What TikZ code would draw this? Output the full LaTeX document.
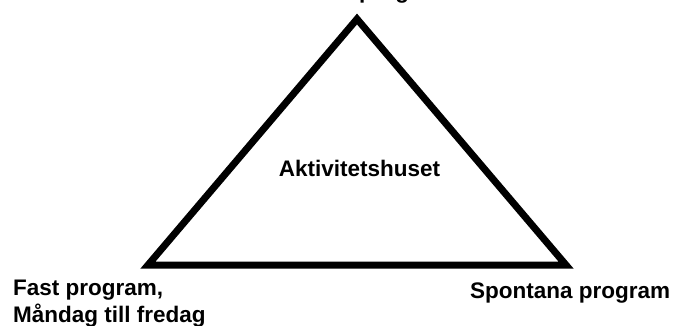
\documentclass[tikz,border=0pt]{standalone}
\usepackage{fontspec}
\setmainfont{Liberation Sans}
\begin{document}
\begin{tikzpicture}[x=1pt,y=-1pt,
  lbl/.style={font=\bfseries\fontsize{22.5}{27}\selectfont, inner sep=0pt},
  edge/.style={line width=7pt, line join=miter}]
\useasboundingbox (0,0) rectangle (679,326);
\coordinate (apex) at (357,19);
\coordinate (bl) at (148,265);
\coordinate (br) at (566,265);
\draw[edge] (apex) -- (bl) -- (br) -- cycle;
\node[lbl, anchor=base] (center) at (359.5,176) {Aktivitetshuset};
\node[lbl, anchor=base west, align=left] (fast) at (13,322) {Fast program,\\Måndag till fredag};
\node[lbl, anchor=base west] (spont) at (470,298) {Spontana program};
\node[lbl, anchor=base west] (top) at (359,-1.7) {program};
\end{tikzpicture}
\end{document}
